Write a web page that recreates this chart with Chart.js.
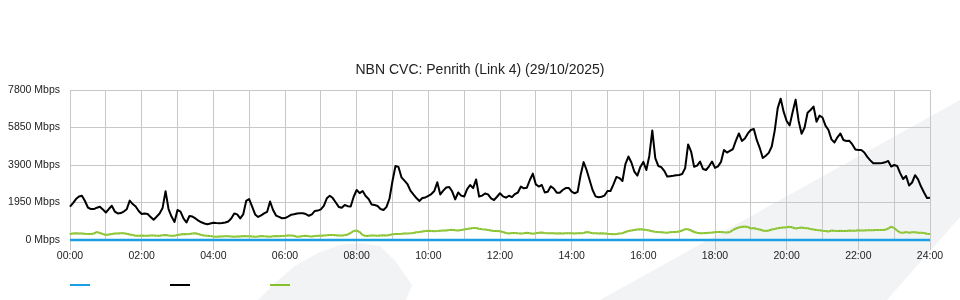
<!DOCTYPE html>
<html>
<head>
<meta charset="utf-8">
<script src="https://cdn.jsdelivr.net/npm/chart.js@4/dist/chart.umd.min.js"></script>
<style>
html, body { margin: 0; padding: 0; background: #ffffff; }
#wrap { position: relative; width: 960px; height: 300px; overflow: hidden; }
#bg { position: absolute; left: 0; top: 0; }
#c { position: absolute; left: 0; top: 0; }
</style>
</head>
<body>
<div id="wrap">
<svg id="bg" width="960" height="300" xmlns="http://www.w3.org/2000/svg">
  <polygon points="258,300 275,283 295,266 318,253 340,245 360,243 380,246 396,262 412,285 406,300" fill="#f2f3f5"/>
  <polygon points="600,300 960,100 960,217 887,300" fill="#f2f3f5"/>
</svg>
<canvas id="c" width="960" height="300"></canvas>
</div>
<script>
const chartTitle = 'NBN CVC: Penrith (Link 4) (29/10/2025)';
const stepMinutes = 5;
const timeMinutes = Array.from({ length: 289 }, (_, i) => i * stepMinutes);
const yTickValues = [0, 1950, 3900, 5850, 7800];
const yUnit = 'Mbps';
const xTickLabels = ['00:00','02:00','04:00','06:00','08:00','10:00','12:00','14:00','16:00','18:00','20:00','22:00','24:00'];

const uploadMbps = [
0,0,0,0,0,0,0,0,0,0,0,0,0,0,0,0,0,
0,0,0,0,0,0,0,0,0,0,0,0,0,0,0,0,0,
0,0,0,0,0,0,0,0,0,0,0,0,0,0,0,0,0,
0,0,0,0,0,0,0,0,0,0,0,0,0,0,0,0,0,
0,0,0,0,0,0,0,0,0,0,0,0,0,0,0,0,0,
0,0,0,0,0,0,0,0,0,0,0,0,0,0,0,0,0,
0,0,0,0,0,0,0,0,0,0,0,0,0,0,0,0,0,
0,0,0,0,0,0,0,0,0,0,0,0,0,0,0,0,0,
0,0,0,0,0,0,0,0,0,0,0,0,0,0,0,0,0,
0,0,0,0,0,0,0,0,0,0,0,0,0,0,0,0,0,
0,0,0,0,0,0,0,0,0,0,0,0,0,0,0,0,0,
0,0,0,0,0,0,0,0,0,0,0,0,0,0,0,0,0,
0,0,0,0,0,0,0,0,0,0,0,0,0,0,0,0,0,
0,0,0,0,0,0,0,0,0,0,0,0,0,0,0,0,0,
0,0,0,0,0,0,0,0,0,0,0,0,0,0,0,0,0,
0,0,0,0,0,0,0,0,0,0,0,0,0,0,0,0,0,
0,0,0,0,0,0,0,0,0,0,0,0,0,0,0,0,0
];

const downloadMbps = [
1730,1920,2130,2260,2300,2030,1690,1610,1610,1680,1730,
1590,1430,1610,1780,1480,1380,1400,1480,1600,2050,
1870,1740,1510,1350,1380,1350,1200,1050,1210,1380,
1660,2540,1610,1220,940,1560,1480,1120,910,1250,
1220,1120,1010,920,860,820,860,900,880,870,
880,910,960,1120,1380,1330,1120,1330,2030,2130,
1740,1330,1200,1280,1380,1460,2000,1560,1270,1200,
1130,1140,1220,1310,1340,1380,1390,1390,1350,1260,
1330,1510,1530,1590,1770,2170,2300,2180,1950,1720,
1680,1820,1760,1740,2250,2600,2440,2550,2290,2130,
1850,1820,1770,1610,1560,1720,2160,3070,3850,3800,
3260,3090,2910,2570,2370,2180,2030,2180,2210,2300,
2390,2550,3000,2370,2570,2730,2760,2520,2110,2470,
2310,2260,2650,2860,2700,3150,2260,2310,2420,2370,
2160,2080,2250,2430,2270,2200,2300,2230,2390,2470,
2780,2690,2720,3120,3450,2890,2780,2860,2470,2510,
2790,2680,2460,2460,2600,2700,2710,2510,2430,2500,
3380,4050,3640,3120,2600,2270,2220,2250,2310,2550,
2550,2890,3280,3220,3070,3950,4340,4030,3550,3350,
3800,4060,3640,4370,5700,4260,3850,3790,3600,3300,
3320,3340,3370,3380,3430,3740,4970,4600,3810,3870,
4080,3690,3640,3830,4080,3750,3830,4060,4680,4550,
4630,4730,5170,5540,5150,5280,5540,5720,5770,5190,
4780,4260,4380,4530,4860,5690,6860,7350,6660,6190,
5960,6660,7300,6190,5520,5850,6620,6760,6940,6150,
6470,6370,5950,5720,5230,5070,5340,5540,5200,5150,
5160,4970,4710,4680,4680,4550,4320,4140,3990,3990,
3990,4000,4040,4110,3820,3900,3850,3480,3170,3330,
2830,2990,3370,3150,2780,2470,2180,2200
];

const otherMbps = [
312,338,348,338,338,322,312,312,338,416,364,
312,260,286,312,338,338,348,348,322,286,
260,224,224,234,224,224,234,234,224,224,
244,260,234,224,224,260,286,312,296,312,
338,348,312,260,234,224,208,182,172,182,
182,192,192,182,172,182,182,208,192,192,
182,172,182,208,192,182,172,192,208,198,
208,218,234,229,218,172,182,208,218,192,
182,208,224,224,234,244,260,260,250,229,
234,244,286,364,468,494,416,260,208,224,
234,234,224,234,244,229,260,302,312,312,
322,338,338,348,364,400,416,442,468,478,
468,458,468,484,494,494,520,536,510,494,
520,546,572,598,624,624,582,556,546,520,
494,468,468,458,416,364,338,364,364,348,
338,348,374,354,328,348,374,390,364,348,
348,348,338,348,338,348,348,348,338,348,
354,364,416,390,348,348,338,348,338,322,
312,296,312,338,354,416,468,494,520,546,
556,546,520,494,458,432,416,406,390,380,
400,416,416,442,494,562,556,494,416,374,
354,348,364,380,390,406,416,416,400,390,
416,520,598,650,692,702,676,598,624,572,
546,494,468,494,546,572,608,634,650,660,
692,650,598,624,650,624,608,572,546,520,
504,478,468,442,494,478,468,478,468,468,
494,478,484,504,494,494,504,504,504,520,
520,520,530,598,692,624,494,390,380,416,
380,400,400,380,380,364,322,312
];

const seriesColors = ['#1b9fe2', '#000000', '#85c02a'];
const legendSpacer = '                           ';
const gridColor = '#c8c8c8';
const fontFamily = "'Liberation Sans', Arial, Helvetica, sans-serif";

function toPoints(values) {
  return values.map((v, i) => ({ x: timeMinutes[i], y: v }));
}

Chart.defaults.font.family = fontFamily;

new Chart(document.getElementById('c'), {
  type: 'line',
  data: {
    datasets: [
      { label: 'Upload', data: toPoints(uploadMbps), borderColor: seriesColors[0], backgroundColor: seriesColors[0], borderWidth: 2.5, pointRadius: 0, tension: 0, clip: false },
      { label: 'Download', data: toPoints(downloadMbps), borderColor: seriesColors[1], backgroundColor: seriesColors[1], borderWidth: 2, pointRadius: 0, tension: 0, borderJoinStyle: 'round', clip: false },
      { label: 'Other', data: toPoints(otherMbps), borderColor: seriesColors[2], backgroundColor: '#a4d45a', borderWidth: 2, pointRadius: 0.9, pointBorderWidth: 0, pointStyle: 'rect', tension: 0, clip: false }
    ]
  },
  options: {
    responsive: false,
    animation: false,
    events: [],
    layout: { padding: { left: 0, right: 0, top: 0, bottom: 0 } },
    plugins: {
      title: {
        display: true,
        text: chartTitle,
        color: '#222222',
        font: { size: 14, weight: 'normal', family: fontFamily },
        padding: { top: 61.6, bottom: 11.6 }
      },
      legend: {
        display: true,
        position: 'bottom',
        align: 'start',
        fullSize: false,
        labels: {
          boxWidth: 20,
          boxHeight: 2,
          padding: 0,
          font: { size: 10 },
          generateLabels: (chart) => chart.data.datasets.map((ds, i) => ({
            text: legendSpacer,
            fillStyle: ds.borderColor,
            strokeStyle: ds.borderColor,
            lineWidth: 0,
            hidden: false,
            datasetIndex: i
          }))
        }
      },
      tooltip: { enabled: false }
    },
    scales: {
      x: {
        type: 'linear',
        min: 0,
        max: 1440,
        afterFit: (s) => { s.height = 40; },
        afterBuildTicks: (s) => {
          const t = [];
          for (let m = 0; m <= 1440; m += 60) t.push({ value: m });
          s.ticks = t;
        },
        ticks: {
          autoSkip: false,
          maxRotation: 0,
          padding: 0,
          color: '#222222',
          font: { size: 10.5 },
          callback: (v) => (v % 120 === 0 ? xTickLabels[v / 120] : '')
        },
        grid: {
          color: gridColor,
          lineWidth: 1,
          drawTicks: true,
          tickLength: 10,
          tickColor: (ctx) => (ctx.tick && ctx.tick.value % 120 === 0 ? gridColor : 'rgba(0,0,0,0)')
        },
        border: { display: false }
      },
      y: {
        min: 0,
        max: 7800,
        afterFit: (s) => { s.width = 70; },
        afterBuildTicks: (s) => { s.ticks = yTickValues.map(v => ({ value: v })); },
        ticks: {
          padding: 10,
          color: '#222222',
          font: { size: 10.5 },
          callback: (v) => v + ' ' + yUnit
        },
        grid: { color: gridColor, lineWidth: 1, drawTicks: false },
        border: { display: true, color: gridColor }
      },
      yRight: {
        position: 'right',
        display: true,
        afterFit: (s) => { s.width = 30; },
        grid: { display: false, drawTicks: false },
        border: { display: false },
        ticks: { display: false }
      }
    }
  }
});
</script>
</body>
</html>
